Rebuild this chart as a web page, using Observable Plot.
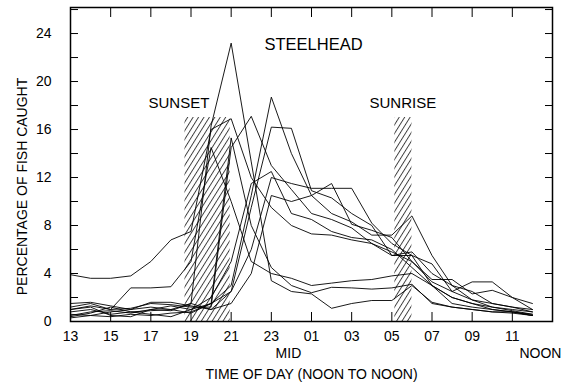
<!DOCTYPE html>
<html><head><meta charset="utf-8">
<script src="https://cdn.jsdelivr.net/npm/d3@7"></script>
<script src="https://cdn.jsdelivr.net/npm/@observablehq/plot@0.6"></script>
<style>html,body{margin:0;padding:0;background:#fff} svg{display:block}</style>
</head><body><div id="chart"></div>
<script>
// Hour of day, noon to noon (13 ... 36 = 12 noon next day)
const hours = [13,14,15,16,17,18,19,20,21,22,23,24,25,26,27,28,29,30,31,32,33,34,35,36];

// Percentage of fish caught per hour, one array per series
const seriesA = [0.8,1.0,0.6,0.8,0.9,1.0,1.5,16.3,23.2,13.3,3.4,2.5,2.3,1.1,1.5,1.75,1.75,3.0,1.6,1.2,1.0,0.8,0.7,0.5];
const seriesB = [3.9,3.6,3.6,3.8,5.0,6.8,7.5,16.0,16.9,12.0,9.5,8.0,7.3,7.2,6.8,6.5,5.5,5.8,4.0,3.0,2.5,1.5,1.2,1.0];
const seriesC = [0.5,0.8,0.9,0.7,1.0,1.3,1.0,1.5,15.3,8.0,4.5,3.0,2.4,2.85,2.8,2.7,2.8,3.1,1.5,1.2,1.0,0.8,0.8,0.6];
const seriesD = [1.2,1.5,1.0,1.1,1.5,1.4,1.2,1.2,14.5,17.1,13.0,11.0,9.0,8.5,7.8,6.5,5.8,5.0,3.3,2.5,1.8,1.5,1.2,0.8];
const seriesE = [0.3,0.5,0.4,0.6,0.5,0.7,0.8,1.5,3.0,10.5,18.7,14.0,10.5,9.0,8.3,7.2,7.2,8.8,5.5,3.0,1.8,1.2,0.9,0.6];
const seriesF = [1.5,1.6,1.3,1.0,1.6,1.6,1.3,1.0,2.5,9.5,16.2,16.1,10.9,10.3,9.0,8.0,5.5,5.5,3.0,1.5,1.2,1.0,0.8,0.5];
const seriesG = [0.6,0.5,0.8,1.0,1.2,1.0,0.7,1.5,2.5,6.0,12.0,11.5,11.1,11.1,11.1,8.2,6.5,5.5,4.8,2.5,3.3,3.3,2.0,1.5];
const seriesH = [1.0,1.2,0.5,0.4,1.0,0.9,1.5,1.0,1.5,4.0,10.5,10.0,10.5,11.5,8.1,7.6,7.0,5.0,3.5,3.5,2.3,2.6,2.0,1.0];
const seriesI = [0.4,0.7,1.2,0.8,0.6,0.4,1.0,2.0,5.0,11.5,12.5,9.0,8.5,7.5,7.0,6.8,6.0,4.5,3.0,2.0,1.5,1.0,0.8,0.5];
const seriesJ = [1.0,1.3,1.0,2.8,2.8,2.9,5.0,14.5,10.0,5.0,4.0,3.6,3.0,3.2,3.4,3.5,3.8,4.0,3.0,2.0,1.5,1.2,1.0,0.8];
const seriesNames = ["A","B","C","D","E","F","G","H","I","J"];
const seriesValues = [seriesA,seriesB,seriesC,seriesD,seriesE,seriesF,seriesG,seriesH,seriesI,seriesJ];

// Sunset / sunrise bands
const zoneNames = ["SUNSET","SUNRISE"];
const zoneStart = [18.7, 29.15];
const zoneEnd = [20.95, 30.0];
const zoneBottom = [0, 0];
const zoneTop = [17, 17];
const zoneLabelX = [18.4, 29.55];
const zoneLabelY = [18.2, 18.2];

// Ticks
const xTicks = [13,15,17,19,21,23,25,27,29,31,33,35];
const xTickLabels = ["13","15","17","19","21","23","01","03","05","07","09","11"];
const yTicksMinor = [0,2,4,6,8,10,12,14,16,18,20,22,24,26];
const yTickLabels = [0,4,8,12,16,20,24];

const notesText = ["MID","NOON"];
const notesX = [24, 36];

const title = "STEELHEAD";
const titleX = 25.1, titleY = 23.1;
const xLabel = "TIME OF DAY (NOON TO NOON)";
const yLabel = "PERCENTAGE OF FISH CAUGHT";

const rows = [];
seriesNames.forEach((name, i) => seriesValues[i].forEach((v, j) => rows.push({series: name, hour: hours[j], value: v})));
const zones = zoneNames.map((n, i) => ({name: n, x1: zoneStart[i], x2: zoneEnd[i], y1: zoneBottom[i], y2: zoneTop[i], lx: zoneLabelX[i], ly: zoneLabelY[i]}));
const notes = notesText.map((t, i) => ({text: t, x: notesX[i]}));

const font = "'Liberation Sans', Arial, Helvetica, sans-serif";

const chart = Plot.plot({
  width: 562, height: 389,
  marginLeft: 70, marginRight: 10, marginTop: 7, marginBottom: 68,
  style: {fontFamily: font, fontSize: "14px", background: "white", color: "black", overflow: "visible"},
  x: {domain: [13, 37], axis: null},
  y: {domain: [0, 26.17], axis: null},
  marks: [
    Plot.rect(zones, {x1: "x1", x2: "x2", y1: "y1", y2: "y2", fill: "url(#hatch)"}),
    Plot.line(rows, {x: "hour", y: "value", z: "series", stroke: "black", strokeWidth: 0.9}),
    Plot.axisX(xTicks, {anchor: "bottom", tickSize: -9, tickFormat: () => "", label: null}),
    Plot.axisX(xTicks, {anchor: "top", tickSize: -9, tickFormat: () => "", label: null}),
    Plot.axisX(xTicks, {anchor: "bottom", tickSize: 0, tickPadding: 10, tickFormat: d => xTickLabels[xTicks.indexOf(d)], fontSize: 14, label: null}),
    Plot.axisY(yTicksMinor, {anchor: "left", tickSize: -8, tickFormat: () => "", label: null}),
    Plot.axisY(yTicksMinor, {anchor: "right", tickSize: -8, tickFormat: () => "", label: null}),
    Plot.axisY(yTickLabels, {anchor: "left", tickSize: 0, tickPadding: 19, tickFormat: d => String(d), fontSize: 14, label: null}),
    Plot.frame({stroke: "black", strokeWidth: 1.5}),
    Plot.text(zones, {x: "lx", y: "ly", text: "name", fontSize: 15, fill: "black"}),
    Plot.text([title], {x: () => titleX, y: () => titleY, text: d => d, fontSize: 16.5, fill: "black"}),
    Plot.text(notes, {x: "x", text: "text", frameAnchor: "bottom", dy: 36, fontSize: 14, fill: "black"}),
    Plot.text([xLabel], {frameAnchor: "bottom", text: d => d, dy: 57, fontSize: 14, fill: "black"}),
    Plot.text([yLabel], {frameAnchor: "left", text: d => d, rotate: -90, textAnchor: "middle", dx: -48, dy: 22, fontSize: 14, fill: "black"})
  ]
});

d3.select(chart).insert("defs", ":first-child").html(
  `<pattern id="hatch" patternUnits="userSpaceOnUse" width="4.6" height="10" patternTransform="rotate(32)">
     <line x1="0.5" y1="0" x2="0.5" y2="10" stroke="black" stroke-width="0.75"/>
   </pattern>`);

// shift NOON slightly right like the reference
d3.select(chart).selectAll("text").filter(function(){ return this.textContent === "NOON"; }).attr("dx", 8);
d3.select(chart).selectAll("text").filter(function(){ return this.textContent === "MID"; }).attr("dx", -3);

document.getElementById("chart").appendChild(chart);
</script>
</body></html>
